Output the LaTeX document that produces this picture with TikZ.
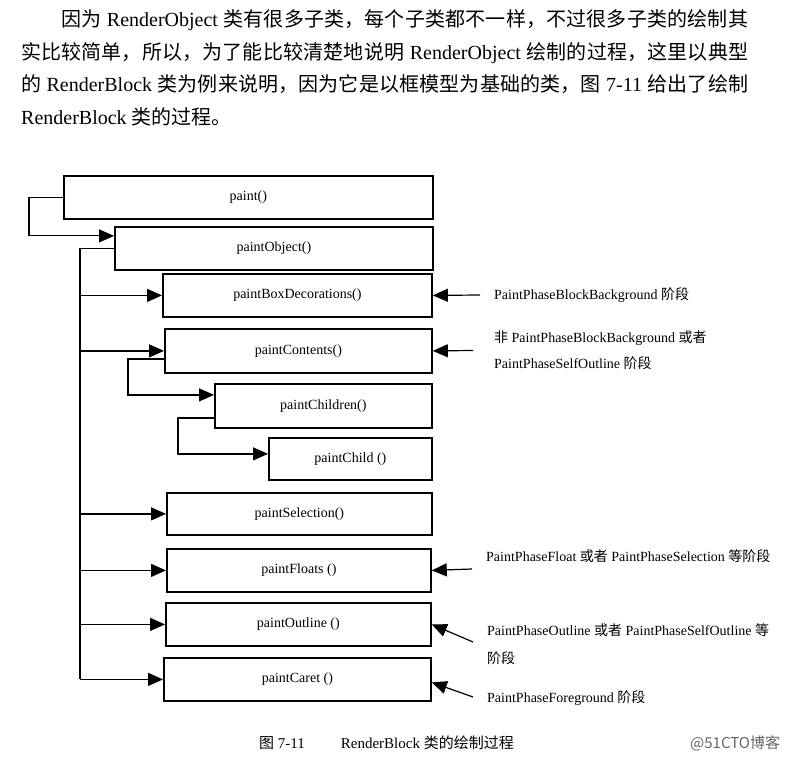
\documentclass[tikz,border=0pt]{standalone}
\usepackage{fontspec}
\setmainfont{Liberation Serif}
\newfontfamily\cjk{Noto Sans CJK SC}
\newcommand{\zh}[1]{{\cjk #1}}
\XeTeXlinebreaklocale "zh"
\XeTeXlinebreakskip=0pt plus 1pt
\usetikzlibrary{arrows.meta}

\tikzset{
  callbox/.style={draw, line width=1.8pt, inner sep=0pt, anchor=north west,
    minimum height=43pt, font=\fontsize{14pt}{16pt}\selectfont},
  link/.style={line width=1.2pt},
  arr/.style={link, -{Triangle[length=15pt,width=13pt]}},
  phase/.style={anchor=west, align=left, inner sep=0pt},
}

\begin{document}
\begin{tikzpicture}[x=1pt, y=-1pt]
  \useasboundingbox (0,0) rectangle (800,759);

  % text above the figure
  \node[anchor=base west, inner sep=0pt, text width=727pt, align=justify,
    font=\fontsize{20pt}{32.5pt}\selectfont] (intro) at (21,27)
  {\hspace*{2em}\zh{因为} RenderObject \zh{类有很多子类，每个子类都不一样，不过很多子类的绘制其}\linebreak
   \zh{实比较简单，所以，为了能比较清楚地说明} RenderObject \zh{绘制的过程，这里以典型}\linebreak
   \zh{的} RenderBlock \zh{类为例来说明，因为它是以框模型为基础的类，图} 7-11 \zh{给出了绘制}\linebreak
   RenderBlock \zh{类的过程。}};

  % call boxes
  \node[callbox, minimum width=369pt] (paint) at (63,175) {paint()};
  \node[callbox, minimum width=318pt] (paintObject) at (114,226) {paintObject()};
  \node[callbox, minimum width=269pt] (paintBoxDecorations) at (162,273) {paintBoxDecorations()};
  \node[callbox, minimum width=267pt, minimum height=44pt] (paintContents) at (164,328) {paintContents()};
  \node[callbox, minimum width=217pt, minimum height=44pt] (paintChildren) at (214,383) {paintChildren()};
  \node[callbox, minimum width=163pt, minimum height=42pt] (paintChild) at (268,437) {paintChild ()};
  \node[callbox, minimum width=265pt, minimum height=42pt] (paintSelection) at (166,492) {paintSelection()};
  \node[callbox, minimum width=264pt] (paintFloats) at (166,548) {paintFloats ()};
  \node[callbox, minimum width=265pt] (paintOutline) at (165,602) {paintOutline ()};
  \node[callbox, minimum width=267pt] (paintCaret) at (163,657) {paintCaret ()};

  % left connectors
  \coordinate (loopA) at (29,0);
  \coordinate (trunk) at (80,0);
  \coordinate (trunkB) at (128,0);
  \coordinate (trunkC) at (178,0);
  \coordinate (objIn) at ([yshift=12.5pt]paintObject.west);
  \coordinate (cntOut) at ([yshift=-8pt]paintContents.west);
  \coordinate (chnIn) at ([yshift=11pt]paintChildren.west);
  \coordinate (chnOut) at ([yshift=-12pt]paintChildren.west);
  \coordinate (chdIn) at ([yshift=5pt]paintChild.west);

  \draw[arr] (paint.west) -- (paint.west -| loopA) |- (objIn);
  \draw[link] (paintObject.west) -- (paintObject.west -| trunk) -- (paintCaret.west -| trunk);
  \foreach \b in {paintBoxDecorations,paintContents,paintSelection,paintFloats,paintOutline,paintCaret}
    \draw[arr] (\b.west -| trunk) -- (\b.west);
  \draw[arr] (cntOut) -- (cntOut -| trunkB) |- (chnIn);
  \draw[arr] (chnOut) -- (chnOut -| trunkC) |- (chdIn);

  % phase notes on the right
  \node[phase, font=\fontsize{14pt}{16pt}\selectfont] (phBlock) at (494,295)
    {PaintPhaseBlockBackground \zh{阶段}};
  \node[phase, font=\fontsize{14pt}{25.6pt}\selectfont] (phContent) at (494,350.5)
    {\zh{非} PaintPhaseBlockBackground \zh{或者}\\PaintPhaseSelfOutline \zh{阶段}};
  \node[phase, font=\fontsize{14pt}{16pt}\selectfont] (phFloat) at (486,556)
    {PaintPhaseFloat \zh{或者} PaintPhaseSelection \zh{等阶段}};
  \node[phase, font=\fontsize{14pt}{27.7pt}\selectfont] (phOutline) at (487,644)
    {PaintPhaseOutline \zh{或者} PaintPhaseSelfOutline \zh{等}\\\zh{阶段}};
  \node[phase, font=\fontsize{14pt}{16pt}\selectfont] (phFore) at (487,698)
    {PaintPhaseForeground \zh{阶段}};

  \coordinate (tFloat) at (472,569);
  \coordinate (tOutline) at (473,642);
  \coordinate (tFore) at (473,697);
  \draw[arr] ([xshift=-14pt]phBlock.west) -- (paintBoxDecorations.east);
  \draw[arr] ([xshift=-21pt]phContent.west) -- (paintContents.east);
  \draw[arr] (tFloat) -- (paintFloats.east);
  \draw[arr] (tOutline) -- (paintOutline.east);
  \draw[arr] (tFore) -- ([yshift=-3pt]paintCaret.east);

  % caption and mark
  \node[anchor=base west, inner sep=0pt, font=\fontsize{15pt}{17pt}\selectfont] (caption) at (259,748)
    {\zh{图}~7-11\hspace{36pt}RenderBlock \zh{类的绘制过程}};
  \node[anchor=base west, inner sep=0pt, text=black!60, font=\cjk\fontsize{15pt}{17pt}\selectfont] (mark) at (690,748)
    {@51CTO博客};
\end{tikzpicture}
\end{document}
